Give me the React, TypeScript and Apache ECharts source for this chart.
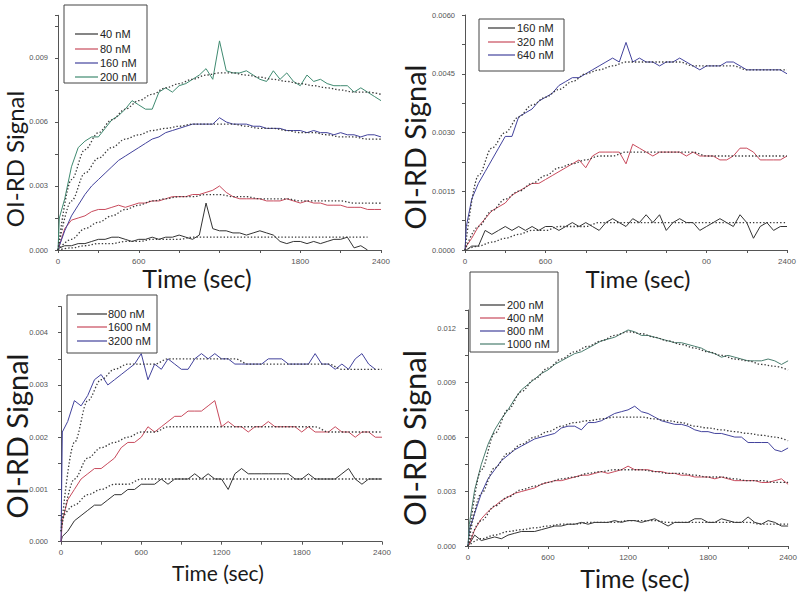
import React, { useEffect, useRef } from "react";
import * as echarts from "echarts";

// ---------- time grids (sec) ----------
const TIME = [
  0, 10, 50, 100, 150, 200, 250, 300, 350, 400,
  450, 500, 550, 600, 650, 700, 750, 800, 850, 900,
  950, 1000, 1050, 1100, 1150, 1200, 1250, 1300, 1350, 1400,
  1450, 1500, 1550, 1600, 1650, 1700, 1750, 1800, 1850, 1900,
  1950, 2000, 2050, 2100, 2150, 2200, 2250, 2300, 2350, 2400,
];
const FIT_TIME = [
  0, 100, 200, 300, 400, 500, 600, 700, 800, 900, 1000, 1100, 1200,
  1300, 1400, 1500, 1600, 1700, 1800, 1900, 2000, 2100, 2200, 2300, 2400,
];

// ---------- panel 1 (40 / 80 / 160 / 200 nM) ----------
const P1_40 = [
  0, 0.0001, 0.0002, 0.0002, 0.0003, 0.0003, 0.0004, 0.0005, 0.0005, 0.0006,
  0.0006, 0.0005, 0.0004, 0.0005, 0.0005, 0.0006, 0.0005, 0.0006, 0.0006, 0.0007,
  0.0006, 0.0005, 0.0007, 0.0022, 0.001, 0.0009, 0.0009, 0.0008, 0.0008, 0.0007,
  0.0008, 0.0009, 0.0008, 0.0007, 0.0004, 0.0003, 0.0004, 0.0004, 0.0003, 0.0004,
  0.0003, 0.0004, 0.0005, 0.0005, 0.0006, 0.0001, 0.0002, 0.0, null, null,
];
const P1_80 = [
  0, 0.0002, 0.001, 0.0014, 0.0015, 0.0016, 0.0018, 0.0019, 0.0019, 0.002,
  0.0021, 0.002, 0.0021, 0.0022, 0.0022, 0.0023, 0.0023, 0.0024, 0.0025, 0.0025,
  0.0025, 0.0026, 0.0026, 0.0027, 0.0028, 0.003, 0.0027, 0.0025, 0.0024, 0.0024,
  0.0024, 0.0024, 0.0023, 0.0023, 0.0023, 0.0024, 0.0023, 0.0022, 0.0023, 0.0022,
  0.0022, 0.0021, 0.0021, 0.0021, 0.002, 0.002, 0.002, 0.0019, 0.0019, 0.0019,
];
const P1_160 = [
  0, 0.0002, 0.0009, 0.0016, 0.0021, 0.0026, 0.003, 0.0033, 0.0036, 0.0039,
  0.0042, 0.0044, 0.0046, 0.0048, 0.005, 0.0052, 0.0053, 0.0055, 0.0056, 0.0057,
  0.0058, 0.0059, 0.0059, 0.0059, 0.0059, 0.0062, 0.006, 0.0059, 0.0059, 0.0059,
  0.0058, 0.0058, 0.0057, 0.0057, 0.0057, 0.0056, 0.0056, 0.0056, 0.0055, 0.0056,
  0.0055, 0.0055, 0.0054, 0.0055, 0.0054, 0.0054, 0.0053, 0.0054, 0.0054, 0.0053,
];
const P1_200 = [
  0, 0.0015, 0.0024, 0.0039, 0.0048, 0.0051, 0.0053, 0.0053, 0.0057, 0.0061,
  0.0063, 0.0066, 0.007, 0.0068, 0.0066, 0.0066, 0.0074, 0.0076, 0.0074, 0.0077,
  0.0078, 0.008, 0.0082, 0.0085, 0.008, 0.0098, 0.0084, 0.0083, 0.0083, 0.0084,
  0.0082, 0.008, 0.0079, 0.0084, 0.008, 0.0083, 0.0079, 0.0077, 0.0082, 0.0079,
  0.008, 0.0078, 0.0077, 0.0077, 0.0077, 0.0074, 0.0076, 0.0074, 0.0072, 0.007,
];
const F1_40 = [
  0, 0.0001, 0.0002, 0.0003, 0.0003, 0.0004, 0.0004, 0.0005, 0.0005, 0.0005,
  0.0006, 0.0006, 0.0006, 0.0006, 0.0006, 0.0006, 0.0006, 0.0006, 0.0006, 0.0006,
  0.0006, 0.0006, 0.0006, 0.0006, null,
];
const F1_80 = [
  0, 0.0005, 0.001, 0.0013, 0.0016, 0.0019, 0.0021, 0.0023, 0.0024, 0.0025,
  0.0025, 0.0026, 0.0026, 0.0025, 0.0025, 0.0024, 0.0024, 0.0024, 0.0023, 0.0023,
  0.0023, 0.0023, 0.0022, 0.0022, 0.0022,
];
const F1_160 = [
  0, 0.0023, 0.0036, 0.0043, 0.0048, 0.0052, 0.0054, 0.0056, 0.0057, 0.0058,
  0.0059, 0.0059, 0.0059, 0.0059, 0.0058, 0.0057, 0.0057, 0.0056, 0.0055, 0.0055,
  0.0054, 0.0053, 0.0053, 0.0052, 0.0052,
];
const F1_200 = [
  0, 0.0033, 0.0047, 0.0055, 0.0061, 0.0066, 0.007, 0.0073, 0.0076, 0.0078,
  0.008, 0.0082, 0.0083, 0.0083, 0.0082, 0.0081, 0.008, 0.0079, 0.0078, 0.0077,
  0.0076, 0.0075, 0.0074, 0.0074, 0.0073,
];

// ---------- panel 2 (160 / 320 / 640 nM) ----------
const P2_160 = [
  0, 0.0, 0.0001, 0.0001, 0.0005, 0.0004, 0.0005, 0.0006, 0.0005, 0.0006,
  0.0005, 0.0006, 0.0005, 0.0006, 0.0006, 0.0005, 0.0006, 0.0007, 0.0006, 0.0007,
  0.0006, 0.0005, 0.0007, 0.0008, 0.0007, 0.0006, 0.0008, 0.0007, 0.0009, 0.0007,
  0.0009, 0.0005, 0.0007, 0.0008, 0.0007, 0.0007, 0.0005, 0.0006, 0.0007, 0.0008,
  0.0007, 0.0006, 0.0009, 0.0007, 0.0003, 0.0006, 0.0007, 0.0005, 0.0006, 0.0006,
];
const P2_320 = [
  0, 0.0001, 0.0003, 0.0006, 0.0008, 0.001, 0.0011, 0.0012, 0.0014, 0.0015,
  0.0016, 0.0017, 0.0017, 0.0018, 0.0019, 0.002, 0.0021, 0.0022, 0.0023, 0.0021,
  0.0024, 0.0025, 0.0025, 0.0025, 0.0025, 0.0022, 0.0027, 0.0026, 0.0025, 0.0024,
  0.0025, 0.0025, 0.0025, 0.0025, 0.0024, 0.0025, 0.0024, 0.0024, 0.0024, 0.0023,
  0.0023, 0.0024, 0.0026, 0.0026, 0.0025, 0.0023, 0.0023, 0.0023, 0.0023, 0.0024,
];
const P2_640 = [
  0, 0.0006, 0.0013, 0.0017, 0.002, 0.0023, 0.0026, 0.0029, 0.0029, 0.0034,
  0.0035, 0.0036, 0.0038, 0.0039, 0.004, 0.0042, 0.0043, 0.0044, 0.0044, 0.0045,
  0.0046, 0.0047, 0.0048, 0.0049, 0.0048, 0.0053, 0.0048, 0.0049, 0.0048, 0.0048,
  0.0047, 0.0048, 0.0048, 0.0049, 0.0048, 0.0047, 0.0046, 0.0047, 0.0047, 0.0047,
  0.0048, 0.0048, 0.0047, 0.0046, 0.0046, 0.0046, 0.0046, 0.0046, 0.0046, 0.0045,
];
const F2_160 = [
  0, 0.0001, 0.0002, 0.0003, 0.0004, 0.0005, 0.0005, 0.0006, 0.0006, 0.0006,
  0.0007, 0.0007, 0.0007, 0.0007, 0.0007, 0.0007, 0.0007, 0.0007, 0.0007, 0.0007,
  0.0007, 0.0007, 0.0007, 0.0007, 0.0007,
];
const F2_320 = [
  0, 0.0006, 0.001, 0.0013, 0.0015, 0.0017, 0.0019, 0.0021, 0.0022, 0.0023,
  0.0024, 0.0024, 0.0025, 0.0025, 0.0025, 0.0025, 0.0025, 0.0025, 0.0024, 0.0024,
  0.0024, 0.0024, 0.0024, 0.0024, 0.0024,
];
const F2_640 = [
  0, 0.0019, 0.0026, 0.003, 0.0034, 0.0037, 0.0039, 0.0041, 0.0043, 0.0045,
  0.0046, 0.0047, 0.0048, 0.0048, 0.0048, 0.0048, 0.0048, 0.0047, 0.0047, 0.0047,
  0.0047, 0.0046, 0.0046, 0.0046, 0.0046,
];

// ---------- panel 3 (800 / 1600 / 3200 nM) ----------
const P3_800 = [
  0, 0.0001, 0.0002, 0.0004, 0.0005, 0.0006, 0.0007, 0.0007, 0.0008, 0.0009,
  0.0009, 0.001, 0.001, 0.0011, 0.0011, 0.0011, 0.0012, 0.0011, 0.0012, 0.0012,
  0.0012, 0.0013, 0.0012, 0.0013, 0.0012, 0.0012, 0.001, 0.0013, 0.0014, 0.0013,
  0.0013, 0.0013, 0.0013, 0.0013, 0.0013, 0.0013, 0.0012, 0.0012, 0.0013, 0.0012,
  0.0012, 0.0012, 0.0012, 0.0013, 0.0014, 0.0012, 0.0011, 0.0012, 0.0012, 0.0012,
];
const P3_1600 = [
  0, 0.0004, 0.0008, 0.001, 0.0012, 0.0013, 0.0014, 0.0014, 0.0015, 0.0016,
  0.0018, 0.0019, 0.0019, 0.002, 0.0022, 0.0021, 0.0022, 0.0023, 0.0024, 0.0024,
  0.0025, 0.0025, 0.0025, 0.0026, 0.0027, 0.0022, 0.0023, 0.0022, 0.0022, 0.0021,
  0.0022, 0.0022, 0.0023, 0.0022, 0.0022, 0.0022, 0.0022, 0.0021, 0.0022, 0.0021,
  0.0021, 0.0021, 0.0022, 0.0021, 0.0021, 0.002, 0.0021, 0.0021, 0.002, 0.002,
];
const P3_3200 = [
  0, 0.0021, 0.0023, 0.0027, 0.0026, 0.0028, 0.0031, 0.0032, 0.003, 0.0031,
  0.0032, 0.0033, 0.0034, 0.0036, 0.0031, 0.0034, 0.0033, 0.0035, 0.0034, 0.0033,
  0.0033, 0.0035, 0.0036, 0.0035, 0.0036, 0.0035, 0.0035, 0.0034, 0.0034, 0.0034,
  0.0034, 0.0034, 0.0035, 0.0035, 0.0035, 0.0034, 0.0034, 0.0034, 0.0034, 0.0036,
  0.0034, 0.0034, 0.0033, 0.0034, 0.0033, 0.0035, 0.0036, 0.0034, 0.0033, null,
];
const F3_800 = [
  0.0004, 0.0007, 0.0009, 0.001, 0.0011, 0.0011, 0.0012, 0.0012, 0.0012, 0.0012,
  0.0012, 0.0012, 0.0012, 0.0012, 0.0012, 0.0012, 0.0012, 0.0012, 0.0012, 0.0012,
  0.0012, 0.0012, 0.0012, 0.0012, 0.0012,
];
const F3_1600 = [
  0.0002, 0.0012, 0.0016, 0.0018, 0.0019, 0.002, 0.0021, 0.0021, 0.0022, 0.0022,
  0.0022, 0.0022, 0.0022, 0.0022, 0.0022, 0.0022, 0.0022, 0.0022, 0.0022, 0.0022,
  0.0021, 0.0021, 0.0021, 0.0021, 0.0021,
];
const F3_3200 = [
  0.0002, 0.0019, 0.0027, 0.0031, 0.0033, 0.0034, 0.0034, 0.0034, 0.0035, 0.0035,
  0.0035, 0.0035, 0.0035, 0.0035, 0.0034, 0.0034, 0.0034, 0.0034, 0.0034, 0.0034,
  0.0034, 0.0033, 0.0033, 0.0033, 0.0033,
];

// ---------- panel 4 (200 / 400 / 800 / 1000 nM) ----------
const P4_200 = [
  0, 0.0001, 0.0006, 0.0003, 0.0004, 0.0005, 0.0004, 0.0006, 0.0007, 0.0008,
  0.0008, 0.0008, 0.0009, 0.001, 0.0011, 0.0011, 0.0012, 0.0012, 0.0013, 0.0012,
  0.0013, 0.0013, 0.0013, 0.0014, 0.0013, 0.0014, 0.0014, 0.0013, 0.0014, 0.0015,
  0.0013, 0.0011, 0.0013, 0.0013, 0.0013, 0.0015, 0.0015, 0.0013, 0.0013, 0.0015,
  0.0014, 0.0013, 0.0013, 0.0016, 0.0013, 0.0012, 0.0014, 0.0013, 0.0011, 0.0011,
];
const P4_400 = [
  0, 0.0001, 0.0009, 0.0015, 0.0019, 0.0022, 0.0025, 0.0027, 0.0029, 0.003,
  0.0031, 0.0032, 0.0034, 0.0035, 0.0036, 0.0036, 0.0037, 0.0038, 0.0039, 0.0039,
  0.004, 0.0041, 0.004, 0.0041, 0.0042, 0.0044, 0.0042, 0.0042, 0.0042, 0.0041,
  0.0041, 0.004, 0.004, 0.0039, 0.0039, 0.0038, 0.0038, 0.0038, 0.0037, 0.0038,
  0.0037, 0.0036, 0.0036, 0.0036, 0.0036, 0.0035, 0.0035, 0.0036, 0.0037, 0.0034,
];
const P4_800 = [
  0, 0.0009, 0.0018, 0.0029, 0.0037, 0.0042, 0.0047, 0.005, 0.0053, 0.0055,
  0.0057, 0.0059, 0.006, 0.0061, 0.0062, 0.0065, 0.0066, 0.0066, 0.0064, 0.0068,
  0.0068, 0.0069, 0.0071, 0.0073, 0.0074, 0.0075, 0.0077, 0.0074, 0.0073, 0.0071,
  0.0069, 0.0068, 0.0067, 0.0067, 0.0066, 0.0064, 0.0063, 0.0063, 0.0062, 0.0062,
  0.0061, 0.006, 0.006, 0.0057, 0.0057, 0.0057, 0.0057, 0.0053, 0.0052, 0.0054,
];
const P4_1000 = [
  0, 0.0012, 0.0031, 0.0045, 0.0056, 0.0064, 0.007, 0.0075, 0.0081, 0.0086,
  0.0089, 0.0092, 0.0095, 0.0097, 0.01, 0.0102, 0.0104, 0.0106, 0.0107, 0.0109,
  0.0111, 0.0113, 0.0114, 0.0115, 0.0117, 0.0119, 0.0118, 0.0116, 0.0116, 0.0115,
  0.0114, 0.0113, 0.0112, 0.0112, 0.0111, 0.011, 0.0109, 0.0107, 0.0106, 0.0104,
  0.0105, 0.0104, 0.0103, 0.0102, 0.0102, 0.0102, 0.0103, 0.0102, 0.01, 0.0102,
];
const F4_200 = [
  0, 0.0004, 0.0006, 0.0008, 0.0009, 0.001, 0.0011, 0.0012, 0.0012, 0.0013,
  0.0013, 0.0013, 0.0014, 0.0014, 0.0014, 0.0013, 0.0013, 0.0013, 0.0013, 0.0013,
  0.0013, 0.0013, 0.0012, 0.0012, 0.0012,
];
const F4_400 = [
  0, 0.0014, 0.0022, 0.0027, 0.0031, 0.0033, 0.0035, 0.0037, 0.0038, 0.004,
  0.0041, 0.0042, 0.0042, 0.0042, 0.0041, 0.004, 0.004, 0.0039, 0.0038, 0.0038,
  0.0037, 0.0036, 0.0036, 0.0035, 0.0035,
];
const F4_800 = [
  0, 0.0029, 0.0043, 0.0051, 0.0056, 0.006, 0.0063, 0.0066, 0.0068, 0.0069,
  0.007, 0.0071, 0.0071, 0.0071, 0.007, 0.0069, 0.0068, 0.0066, 0.0065, 0.0064,
  0.0063, 0.0062, 0.0061, 0.006, 0.0058,
];
const F4_1000 = [
  0, 0.0042, 0.0062, 0.0075, 0.0085, 0.0092, 0.0098, 0.0103, 0.0107, 0.011,
  0.0113, 0.0116, 0.0118, 0.0117, 0.0115, 0.0113, 0.0111, 0.0109, 0.0107, 0.0105,
  0.0103, 0.0102, 0.01, 0.0099, 0.0097,
];

// ---------- labels ----------
const P1_NAMES = ["40 nM", "80 nM", "160 nM", "200 nM"];
const P2_NAMES = ["160 nM", "320 nM", "640 nM"];
const P3_NAMES = ["800 nM", "1600 nM", "3200 nM"];
const P4_NAMES = ["200 nM", "400 nM", "800 nM", "1000 nM"];
const X_TICK_LABELS_P1 = ["0", "600", "", "1800", "2400"];
const X_TICK_LABELS_P2 = ["0", "600", "", "00", "2400"];
const X_TICK_LABELS_P3 = ["0", "600", "1200", "1800", "2400"];
const X_TICK_LABELS_P4 = ["0", "600", "1200", "1800", "2400"];
const Y_TITLE = "OI-RD Signal";
const X_TITLE = "Time (sec)";

// ---------- styling ----------
const C_BLACK = "#333333";
const C_RED = "#c84a5c";
const C_BLUE = "#42429c";
const C_GREEN = "#3f8a70";
const C_GREEN4 = "#4a7d6e";

const PANELS = [
  {
    grid: { left: 58, top: 15.3, width: 323, height: 234.7 },
    yMax: 0.011, yStep: 0.0015, yMajor: 0.003, yDigits: 3, yMargin: 10,
    xLabels: X_TICK_LABELS_P1,
    names: P1_NAMES, colors: [C_BLACK, C_RED, C_BLUE, C_GREEN],
    data: [P1_40, P1_80, P1_160, P1_200], fits: [F1_40, F1_80, F1_160, F1_200],
    yTitle: { x: 14, y: 159, size: 24 }, xTitle: { x: 197, y: 278, size: 25 },
    legend: { x: 64, y: 5, w: 83, h: 78, lx1: 75, lx2: 98, tx: 100, ys: [34, 49, 63, 77] },
  },
  {
    grid: { left: 465, top: 15, width: 322, height: 235 },
    yMax: 0.006, yStep: 0.00075, yMajor: 0.0015, yDigits: 4, yMargin: 10,
    xLabels: X_TICK_LABELS_P2,
    names: P2_NAMES, colors: [C_BLACK, C_RED, C_BLUE],
    data: [P2_160, P2_320, P2_640], fits: [F2_160, F2_320, F2_640],
    yTitle: { x: 414, y: 147, size: 29 }, xTitle: { x: 638, y: 278, size: 24 },
    legend: { x: 479, y: 19, w: 85, h: 52, lx1: 488, lx2: 515, tx: 517, ys: [28, 42, 55] },
  },
  {
    grid: { left: 61, top: 306.6, width: 321, height: 235.1 },
    yMax: 0.0045, yStep: 0.0005, yMajor: 0.001, yDigits: 3, yMargin: 13,
    xLabels: X_TICK_LABELS_P3,
    names: P3_NAMES, colors: [C_BLACK, C_RED, C_BLUE],
    data: [P3_800, P3_1600, P3_3200], fits: [F3_800, F3_1600, F3_3200],
    yTitle: { x: 16, y: 436, size: 29 }, xTitle: { x: 218, y: 572, size: 21 },
    legend: { x: 67, y: 295, w: 90, h: 58, lx1: 77, lx2: 107, tx: 108, ys: [314, 327, 341] },
  },
  {
    grid: { left: 468, top: 310, width: 322, height: 236 },
    yMax: 0.013, yStep: 0.0015, yMajor: 0.003, yDigits: 3, yMargin: 12,
    xLabels: X_TICK_LABELS_P4,
    names: P4_NAMES, colors: [C_BLACK, C_RED, C_BLUE, C_GREEN4],
    data: [P4_200, P4_400, P4_800, P4_1000], fits: [F4_200, F4_400, F4_800, F4_1000],
    yTitle: { x: 414, y: 438, size: 31 }, xTitle: { x: 635, y: 578, size: 25 },
    legend: { x: 470, y: 272, w: 88, h: 80, lx1: 480, lx2: 505, tx: 507, ys: [305, 318, 331, 344] },
  },
];

const AXIS_COLOR = "#555";
const TICK_FONT = "Liberation Sans";
const TITLE_FONT = "Lato";

function isMultiple(v: number, step: number) {
  const r = v / step;
  return Math.abs(r - Math.round(r)) < 1e-6;
}

function buildOption() {
  const grids: any[] = [];
  const xAxes: any[] = [];
  const yAxes: any[] = [];
  const series: any[] = [];
  const graphics: any[] = [];

  PANELS.forEach((p, gi) => {
    grids.push({ ...p.grid, containLabel: false });
    xAxes.push({
      type: "value", gridIndex: gi, min: 0, max: 2400, interval: 300,
      axisLine: { show: true, lineStyle: { color: AXIS_COLOR, width: 1 } },
      axisTick: { show: true, inside: false, length: 3, lineStyle: { color: AXIS_COLOR } },
      splitLine: { show: false },
      axisLabel: {
        fontSize: 8, color: "#555", margin: 7, fontFamily: TICK_FONT,
        formatter: (v: number) => (isMultiple(v, 600) ? p.xLabels[Math.round(v / 600)] ?? "" : ""),
      },
    });
    yAxes.push({
      type: "value", gridIndex: gi, min: 0, max: p.yMax, interval: p.yStep,
      axisLine: { show: true, lineStyle: { color: AXIS_COLOR, width: 1 } },
      axisTick: { show: true, inside: false, length: 3, lineStyle: { color: AXIS_COLOR } },
      splitLine: { show: false },
      axisLabel: {
        fontSize: 7.5, color: "#555", margin: p.yMargin, fontFamily: TICK_FONT,
        formatter: (v: number) => (isMultiple(v, p.yMajor) ? v.toFixed(p.yDigits) : ""),
      },
    });

    p.data.forEach((vals, si) => {
      series.push({
        type: "line", name: p.names[si], xAxisIndex: gi, yAxisIndex: gi,
        data: TIME.map((t, i) => [t, vals[i]]),
        symbol: "none", lineStyle: { color: p.colors[si], width: 1 },
        itemStyle: { color: p.colors[si] }, z: 2, silent: true,
      });
    });
    p.fits.forEach((vals, si) => {
      series.push({
        type: "line", name: p.names[si] + " fit", xAxisIndex: gi, yAxisIndex: gi,
        data: FIT_TIME.map((t, i) => [t, vals[i]]),
        symbol: "none", smooth: 0.35, smoothMonotone: "x",
        lineStyle: { color: "#3a3a3a", width: 1.3, type: [1.4, 2] },
        z: 3, silent: true,
      });
    });

    // axis titles
    graphics.push({
      type: "text", x: p.yTitle.x, y: p.yTitle.y, rotation: Math.PI / 2,
      style: {
        text: Y_TITLE, fontSize: p.yTitle.size, lineHeight: p.yTitle.size,
        fontFamily: TITLE_FONT, fill: "#1a1a1a",
        textAlign: "center", textVerticalAlign: "middle",
      },
    });
    graphics.push({
      type: "text", x: p.xTitle.x, y: p.xTitle.y,
      style: {
        text: X_TITLE, fontSize: p.xTitle.size, lineHeight: p.xTitle.size,
        fontFamily: TITLE_FONT, fill: "#1a1a1a",
        textAlign: "center", textVerticalAlign: "middle",
      },
    });
    // legend box
    const L = p.legend;
    graphics.push({
      type: "rect", shape: { x: L.x, y: L.y, width: L.w, height: L.h },
      style: { fill: "#fff", stroke: "#444", lineWidth: 1 }, z: 10,
    });
    p.names.forEach((nm, si) => {
      graphics.push({
        type: "line", shape: { x1: L.lx1, y1: L.ys[si], x2: L.lx2, y2: L.ys[si] },
        style: { stroke: p.colors[si], lineWidth: 1.2 }, z: 11,
      });
      graphics.push({
        type: "text", x: L.tx, y: L.ys[si], z: 11,
        style: {
          text: nm, fontSize: 11, fontFamily: TICK_FONT, fill: "#222",
          textAlign: "left", textVerticalAlign: "middle",
        },
      });
    });
  });

  return {
    animation: false,
    backgroundColor: "#ffffff",
    grid: grids,
    xAxis: xAxes,
    yAxis: yAxes,
    series,
    graphic: graphics,
  };
}

export default function App() {
  const ref = useRef<HTMLDivElement>(null);
  useEffect(() => {
    if (!ref.current) return;
    const chart = echarts.init(ref.current, null, { renderer: "svg" });
    chart.setOption(buildOption() as any);
    return () => chart.dispose();
  }, []);
  return (
    <div
      ref={ref}
      style={{ position: "fixed", left: 0, top: 0, width: 800, height: 597, background: "#fff" }}
    />
  );
}
